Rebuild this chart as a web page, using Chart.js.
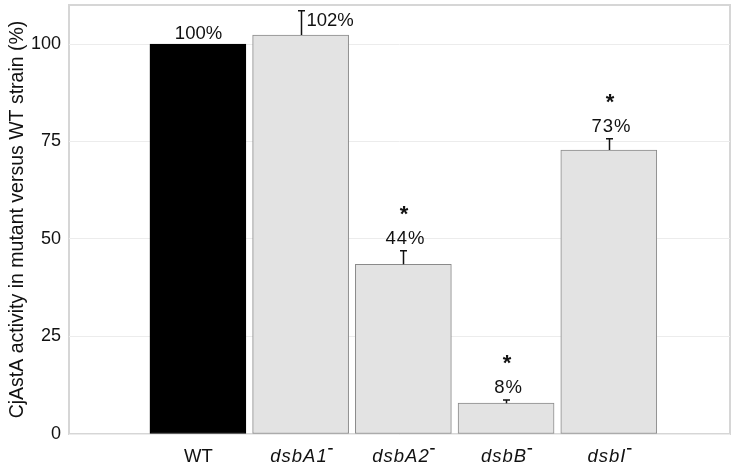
<!DOCTYPE html>
<html>
<head>
<meta charset="utf-8">
<script src="https://cdn.jsdelivr.net/npm/chart.js@4"></script>
<style>
  html, body { margin: 0; padding: 0; background: #fff; }
  #wrap { width: 737px; height: 467px; }
</style>
</head>
<body>
<div id="wrap"><canvas id="activityChart" width="737" height="467"></canvas></div>
<script>
// Chart data
const strains = ['WT', 'dsbA1', 'dsbA2', 'dsbB', 'dsbI'];
const mutant = [false, true, true, true, true];
const activity = [100, 102.3, 43.5, 7.9, 72.8];
const errors = [0, 6.2, 3.5, 0.8, 2.9];
const valueLabels = ['100%', '102%', '44%', '8%', '73%'];
const significant = [false, false, true, true, true];
const yTicks = [0, 25, 50, 75, 100];

const FONT = "'Liberation Sans', Arial, sans-serif";

// Frame, error bars, labels above the bars and strain names
const annotate = {
    id: 'annotate',
    beforeDraw(chart) {
        const a = chart.chartArea;
        const ctx = chart.ctx;
        ctx.save();
        ctx.strokeStyle = '#d6d6d6';
        ctx.lineWidth = 2;
        ctx.strokeRect(a.left, a.top, a.right - a.left, a.bottom - a.top);
        ctx.restore();
    },
    afterDatasetsDraw(chart) {
        const ctx = chart.ctx;
        const x = chart.scales.x;
        const y = chart.scales.y;
        ctx.save();
        ctx.fillStyle = '#111';
        ctx.strokeStyle = '#111';
        ctx.lineWidth = 1.5;
        activity.forEach((v, i) => {
            const px = Math.round(x.getPixelForValue(i)) + 0.5;
            const top = y.getPixelForValue(v);
            const errTop = y.getPixelForValue(v + errors[i]);
            if (errors[i] > 0) {
                ctx.beginPath();
                ctx.moveTo(px, top);
                ctx.lineTo(px, errTop);
                ctx.moveTo(px - 3.5, errTop);
                ctx.lineTo(px + 3.5, errTop);
                ctx.stroke();
            }
            ctx.font = '18.5px ' + FONT;
            ctx.textBaseline = 'alphabetic';
            if (i === 0) {
                ctx.textAlign = 'center';
                ctx.fillText(valueLabels[i], px, top - 5);
            } else if (!significant[i]) {
                ctx.textAlign = 'left';
                ctx.fillText(valueLabels[i], px + 5, errTop + 15);
            } else {
                ctx.textAlign = 'center';
                ctx.fillText(valueLabels[i], px + 2, errTop - 7);
                ctx.font = 'bold 22px ' + FONT;
                ctx.fillText('*', px + 1, errTop - 30);
            }

            // strain name, mutants in italics with a raised minus
            ctx.font = (mutant[i] ? 'italic ' : '') + '18.5px ' + FONT;
            ctx.letterSpacing = mutant[i] ? '1px' : '0px';
            ctx.textAlign = 'left';
            const w = ctx.measureText(strains[i]).width;
            const extra = mutant[i] ? 5 : 0;
            const sx = px - (w + extra) / 2;
            const base = 462;
            ctx.fillText(strains[i], sx, base);
            if (mutant[i]) {
                ctx.fillRect(sx + w + 0.5, base - 14, 4.5, 1.6);
            }
        });
        ctx.restore();
    }
};

const ctx = document.getElementById('activityChart').getContext('2d');
new Chart(ctx, {
    type: 'bar',
    data: {
        datasets: [{
            data: activity.map((v, i) => ({ x: i, y: v })),
            backgroundColor: activity.map((v, i) => i === 0 ? '#000000' : '#e3e3e3'),
            borderColor: activity.map((v, i) => i === 0 ? '#000000' : '#8a8a8a'),
            borderWidth: 1,
            borderSkipped: false,
            barThickness: 96
        }]
    },
    options: {
        responsive: false,
        animation: false,
        layout: { padding: { top: 5, right: 7, left: 0, bottom: 0 } },
        plugins: {
            legend: { display: false },
            tooltip: { enabled: false }
        },
        scales: {
            x: {
                type: 'linear',
                offset: false,
                min: -1.255,
                max: 5.18,
                grid: { display: false, drawTicks: false },
                border: { display: false },
                afterBuildTicks: (scale) => {
                    scale.ticks = strains.map((s, i) => ({ value: i }));
                },
                afterFit: (scale) => {
                    scale.height = 33;
                    scale.paddingLeft = 0;
                    scale.paddingRight = 0;
                },
                ticks: { display: false }
            },
            y: {
                min: 0,
                max: 110,
                grid: { color: '#ececec', lineWidth: 1, drawTicks: false },
                border: { display: false },
                afterBuildTicks: (scale) => {
                    scale.ticks = yTicks.map(v => ({ value: v }));
                },
                afterFit: (scale) => {
                    scale.width = 69;
                    scale.paddingTop = 0;
                    scale.paddingBottom = 0;
                },
                ticks: {
                    padding: 8,
                    color: '#111',
                    font: { family: FONT, size: 18 }
                },
                title: {
                    display: true,
                    text: 'CjAstA activity in mutant versus WT strain (%)',
                    color: '#111',
                    padding: { top: 6, bottom: 0 },
                    font: { family: FONT, size: 19.5 }
                }
            }
        }
    },
    plugins: [annotate]
});
</script>
</body>
</html>
